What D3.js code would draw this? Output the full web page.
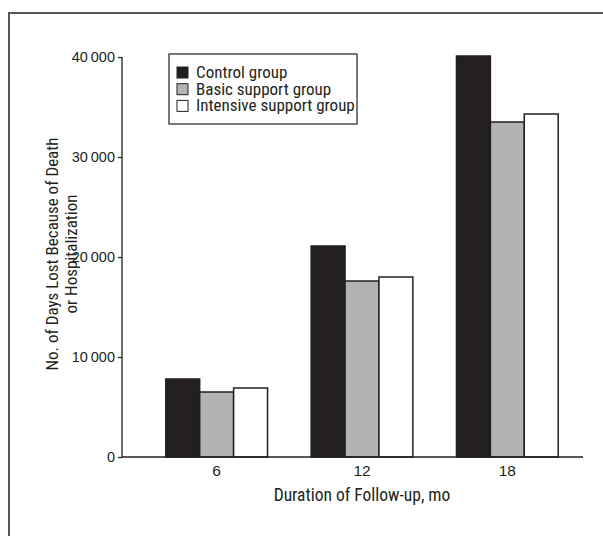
<!DOCTYPE html>
<html>
<head>
<meta charset="utf-8">
<script src="https://cdn.jsdelivr.net/npm/d3@7"></script>
<style>
  body { margin: 0; background: #fff; }
  svg { font-family: "Liberation Sans Narrow", "Arial Narrow", "Roboto Condensed", sans-serif; }
</style>
</head>
<body>
<div id="my_dataviz"></div>
<script>
// data
var months = ["6", "12", "18"];
var groups = ["Control group", "Basic support group", "Intensive support group"];
var control = [7800, 21100, 40100];
var basic = [6500, 17600, 33500];
var intensive = [6900, 18000, 34300];
var yTicks = [0, 10000, 20000, 30000, 40000];
var colors = ["#231f20", "#b2b3b5", "#ffffff"];

var seriesByGroup = [control, basic, intensive];

var width = 603, height = 536;
var margin = { top: 57, right: 20, bottom: 79, left: 122 };
var innerW = 583 - margin.left, innerH = height - margin.top - margin.bottom;

var svg = d3.select("#my_dataviz")
    .append("svg")
    .attr("width", width)
    .attr("height", height);

// outer frame (only top and left edges are visible)
svg.append("rect")
    .attr("x", 9)
    .attr("y", 13)
    .attr("width", 700)
    .attr("height", 700)
    .attr("fill", "none")
    .attr("stroke", "#555")
    .attr("stroke-width", 2);

var g = svg.append("g")
    .attr("transform", "translate(" + margin.left + "," + margin.top + ")");

var y = d3.scaleLinear()
    .domain([0, 40000])
    .range([innerH, 0]);

var x0 = d3.scaleBand()
    .domain(months)
    .range([22, 458])
    .paddingInner(0.3)
    .paddingOuter(0.15);

var x1 = d3.scaleBand()
    .domain(groups)
    .range([0, x0.bandwidth()]);

var fmt = function (d) { return d3.format(",")(d).replace(",", "\u2009"); };

// y axis
var yAxis = g.append("g")
    .call(d3.axisLeft(y).tickValues(yTicks).tickSize(4).tickPadding(3).tickFormat(fmt));
yAxis.select(".domain").attr("stroke", "#231f20").attr("stroke-width", 1.3)
    .attr("d", "M0," + (innerH + 0.5) + "V" + y(40000));
yAxis.selectAll(".tick line").attr("stroke", "#231f20").attr("stroke-width", 1.2);
yAxis.selectAll("text").attr("fill", "#231f20").style("font-size", "14.5px")
    .style("font-family", "inherit");

// bars
var data = [];
months.forEach(function (m, i) {
    groups.forEach(function (s, j) {
        data.push({ month: m, group: s, value: seriesByGroup[j][i], idx: j });
    });
});

g.selectAll("mybar")
    .data(data)
    .enter()
    .append("rect")
    .attr("x", function (d) { return x0(d.month) + x1(d.group); })
    .attr("y", function (d) { return y(d.value); })
    .attr("width", x1.bandwidth())
    .attr("height", function (d) { return innerH - y(d.value); })
    .attr("fill", function (d) { return colors[d.idx]; })
    .attr("stroke", "#231f20")
    .attr("stroke-width", 1.5);

// x axis
var xAxis = g.append("g")
    .attr("transform", "translate(0," + innerH + ")")
    .call(d3.axisBottom(x0).tickSize(0).tickPadding(8));
xAxis.select(".domain").remove();
xAxis.selectAll("text").attr("fill", "#231f20").style("font-size", "15.5px")
    .style("font-family", "inherit");
g.append("line")
    .attr("x1", 0).attr("x2", innerW)
    .attr("y1", innerH).attr("y2", innerH)
    .attr("stroke", "#231f20")
    .attr("stroke-width", 1.3);

// axis titles
g.append("text")
    .attr("x", 240)
    .attr("y", innerH + 44)
    .style("text-anchor", "middle")
    .style("font-size", "17.5px")
    .attr("fill", "#231f20")
    .text("Duration of Follow-up, mo");

var yTitle = g.append("text")
    .attr("transform", "rotate(-90)")
    .attr("y", -64)
    .style("text-anchor", "middle")
    .style("font-size", "17px")
    .attr("fill", "#231f20");
yTitle.append("tspan").attr("x", 0 - innerH / 2 + 3).attr("dy", 0).text("No. of Days Lost Because of Death");
yTitle.append("tspan").attr("x", 0 - innerH / 2 + 3).attr("dy", 19).text("or Hospitalization");

// legend
var legend = svg.append("g").attr("transform", "translate(169,54)");
legend.append("rect")
    .attr("width", 188)
    .attr("height", 70)
    .attr("fill", "#fff")
    .attr("stroke", "#231f20")
    .attr("stroke-width", 1.2);

var items = legend.selectAll("legItem")
    .data(groups)
    .enter()
    .append("g")
    .attr("transform", function (d, i) { return "translate(8," + (13 + i * 16.7) + ")"; });
items.append("rect")
    .attr("width", 11)
    .attr("height", 11)
    .attr("fill", function (d, i) { return colors[i]; })
    .attr("stroke", "#231f20")
    .attr("stroke-width", 1);
items.append("text")
    .attr("x", 19)
    .attr("y", 11)
    .style("font-size", "17px")
    .attr("fill", "#231f20")
    .text(function (d) { return d; });
</script>
</body>
</html>
